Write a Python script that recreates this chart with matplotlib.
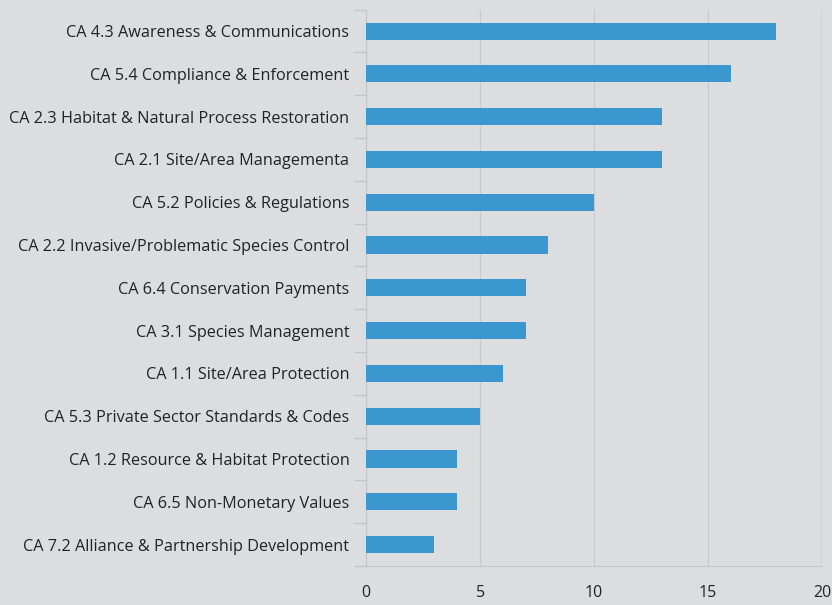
import matplotlib.pyplot as plt
import numpy as np

categories = [
    "CA 4.3 Awareness & Communications",
    "CA 5.4 Compliance & Enforcement",
    "CA 2.3 Habitat & Natural Process Restoration",
    "CA 2.1 Site/Area Managementa",
    "CA 5.2 Policies & Regulations",
    "CA 2.2 Invasive/Problematic Species Control",
    "CA 6.4 Conservation Payments",
    "CA 3.1 Species Management",
    "CA 1.1 Site/Area Protection",
    "CA 5.3 Private Sector Standards & Codes",
    "CA 1.2 Resource & Habitat Protection",
    "CA 6.5 Non-Monetary Values",
    "CA 7.2 Alliance & Partnership Development",
]
counts = [18, 16, 13, 13, 10, 8, 7, 7, 6, 5, 4, 4, 3]
x_ticks = [0, 5, 10, 15, 20]

bg = "#dcdddf"
plt.rcParams["font.family"] = ["Open Sans", "DejaVu Sans"]

fig = plt.figure(figsize=(8.32, 6.05), dpi=100, facecolor=bg)
ax = fig.add_axes([0.44, 0.0645, 0.548, 0.9195], facecolor=bg)

y = np.arange(len(categories))
ax.barh(y, counts, height=0.4, color="#3a97d0", zorder=3)

ax.set_xlim(0, 20)
ax.set_ylim(len(categories) - 0.5, -0.5)
ax.set_xticks(x_ticks)
ax.set_xticklabels([str(t) for t in x_ticks], fontsize=11.5, color="#222222")
ax.set_yticks(y)
ax.set_yticklabels(categories, fontsize=11.7, color="#222222")
ax.tick_params(axis="y", length=0, pad=12)
ax.tick_params(axis="x", length=0, pad=14)

# short ticks between categories on the y axis
ax.set_yticks(np.arange(len(categories) + 1) - 0.5, minor=True)
ax.tick_params(axis="y", which="minor", length=9, color="#c4c5c7", width=1)

ax.grid(axis="x", color="#c8c9cb", linewidth=0.8, zorder=0)
ax.axvline(20, color="#a9aaac", linewidth=1, zorder=1)
for side in ["top", "right"]:
    ax.spines[side].set_visible(False)
ax.spines["left"].set_color("#c4c5c7")
ax.spines["bottom"].set_color("#c4c5c7")
ax.spines["bottom"].set_bounds(-0.4, 20)

fig.savefig("out.png", dpi=100, facecolor=bg)
